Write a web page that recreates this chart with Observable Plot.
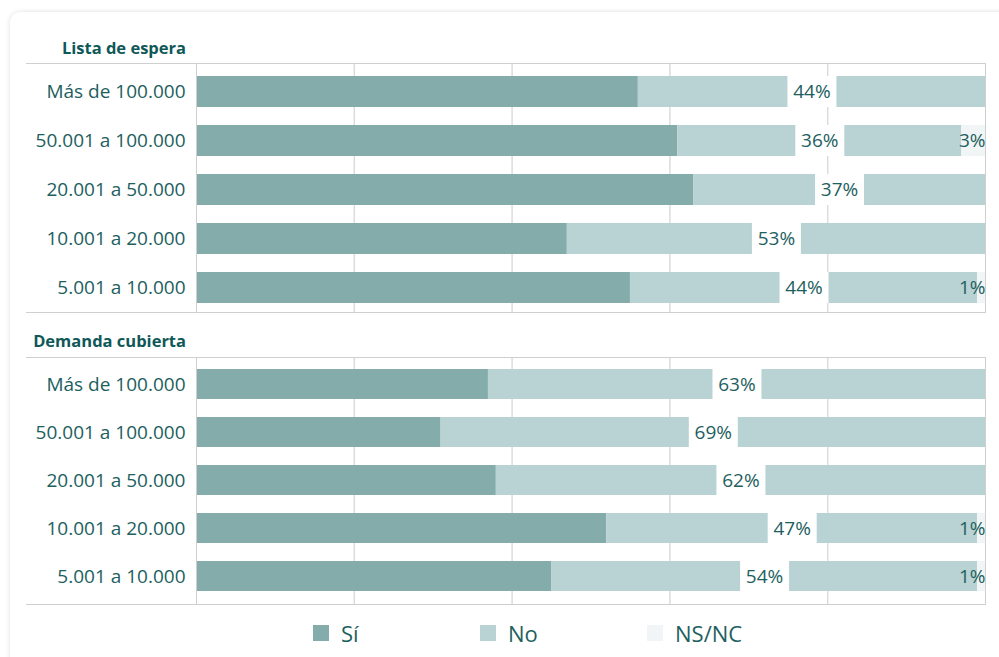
<!DOCTYPE html>
<html>
<head>
<meta charset="utf-8">
<script src="https://cdn.jsdelivr.net/npm/d3@7"></script>
<script src="https://cdn.jsdelivr.net/npm/@observablehq/plot@0.6"></script>
<style>
  html, body { margin: 0; padding: 0; background: #fff; }
  body { width: 999px; height: 657px; position: relative; overflow: hidden; font-family: "Open Sans", "Noto Sans", sans-serif; color: #1d6060; }
  #card { position: absolute; left: 10px; top: 12px; width: 1010px; height: 680px; border-radius: 10px; box-shadow: 0 0 5px rgba(0,0,0,0.13); background: #fff; }
  .title { position: absolute; width: 186px; text-align: right; font-weight: 700; font-size: 16.5px; color: #0f5858; line-height: 20px; }
  .wrap { position: absolute; left: 26px; width: 959px; border-top: 1px solid #cfcfcf; border-bottom: 1px solid #cfcfcf; border-right: 1px solid #cfcfcf; }
  .wrap svg { display: block; }
  #legend { position: absolute; left: 313px; top: 620px; display: flex; }
  .item { width: 167px; display: flex; align-items: center; height: 26px; }
  .sw { width: 16px; height: 16px; margin-right: 12px; }
  .lab { font-size: 22px; color: #1d6060; }
</style>
</head>
<body>
<div id="card"></div>
<div class="title" style="top:38px;">Lista de espera</div>
<div class="wrap" id="p1" style="top:63px;"></div>
<div class="title" style="top:331px;">Demanda cubierta</div>
<div class="wrap" id="p2" style="top:357px;"></div>
<div id="legend"></div>
<script>
const categories = ["Más de 100.000", "50.001 a 100.000", "20.001 a 50.000", "10.001 a 20.000", "5.001 a 10.000"];
const respuestas = ["Sí", "No", "NS/NC"];
const colores = ["#84acab", "#b9d2d3", "#f1f5f5"];

const listaSi = [56, 61, 63, 47, 55];
const listaNo = [44, 36, 37, 53, 44];
const listaNs = [0, 3, 0, 0, 1];

const demandaSi = [37, 31, 38, 52, 45];
const demandaNo = [63, 69, 62, 47, 54];
const demandaNs = [0, 0, 0, 1, 1];

const textColor = "#1d6060";

function panel(si, no, ns, height, paddingOuter, align) {
  const rows = categories.flatMap((c, i) => [
    {cat: c, resp: "Sí", v: si[i]},
    {cat: c, resp: "No", v: no[i]},
    {cat: c, resp: "NS/NC", v: ns[i]}
  ]);
  const noLabels = categories.map((c, i) => ({cat: c, mid: si[i] + no[i] / 2, no: no[i]}));
  const nsLabels = categories.map((c, i) => ({cat: c, end: si[i] + no[i] + ns[i], ns: ns[i]})).filter(d => d.ns > 0);
  return Plot.plot({
    width: 959,
    height,
    marginLeft: 170,
    marginRight: 0,
    marginTop: 0,
    marginBottom: 0,
    style: {fontFamily: "'Open Sans', 'Noto Sans', sans-serif", fontSize: "19px", color: textColor, background: "transparent", overflow: "visible"},
    x: {domain: [0, 100], axis: null},
    y: {domain: categories, paddingInner: 0.367, paddingOuter, align, axis: null, label: null},
    color: {domain: respuestas, range: colores},
    marks: [
      Plot.ruleX([20, 40, 60, 80], {stroke: "#dcdcdc", strokeWidth: 1.5}),
      Plot.barX(rows, Plot.stackX({x: "v", y: "cat", fill: "resp", z: "resp", order: respuestas})),
      Plot.ruleX([0], {stroke: "#cfcfcf"}),
      Plot.tickX(noLabels, {x: "mid", y: "cat", stroke: "white", strokeWidth: 49}),
      Plot.text(noLabels, {x: "mid", y: "cat", text: d => d.no + "%", fill: textColor, fontSize: 19}),
      Plot.text(nsLabels, {x: "end", y: "cat", text: d => d.ns + "%", fill: textColor, fontSize: 19, textAnchor: "end"}),
      Plot.axisY({tickSize: 0, tickPadding: 11, fontSize: 19, fill: textColor, label: null})
    ]
  });
}

document.getElementById("p1").appendChild(panel(listaSi, listaNo, listaNs, 248, 0.214, 0.571));
document.getElementById("p2").appendChild(panel(demandaSi, demandaNo, demandaNs, 246, 0.2, 0.45));

const legend = document.getElementById("legend");
respuestas.forEach((r, i) => {
  const item = document.createElement("div");
  item.className = "item";
  item.innerHTML = `<div class="sw" style="background:${colores[i]}"></div><span class="lab">${r}</span>`;
  legend.appendChild(item);
});
</script>
</body>
</html>
